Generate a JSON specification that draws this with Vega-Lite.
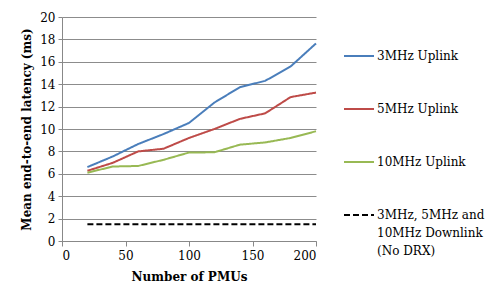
{
  "$schema": "https://vega.github.io/schema/vega-lite/v6.json",
  "width": 254,
  "height": 224,
  "autosize": "none",
  "padding": {"left": 62, "top": 17, "right": 181, "bottom": 47},
  "background": "white",
  "config": {
    "view": {"stroke": null},
    "font": "DejaVu Serif",
    "axis": {"labelFont": "DejaVu Serif", "titleFont": "DejaVu Serif", "labelFontSize": 12, "titleFontSize": 12, "labelColor": "#000", "titleColor": "#000"},
    "legend": {"labelFont": "DejaVu Serif", "labelFontSize": 12, "labelColor": "#000"},
    "style": {"guide-label": {"lineHeight": 18}}
  },
  "data": {
    "values": [
      {"pmus": 20, "latency": 6.6, "series": "3MHz Uplink"},
      {"pmus": 40, "latency": 7.55, "series": "3MHz Uplink"},
      {"pmus": 60, "latency": 8.66, "series": "3MHz Uplink"},
      {"pmus": 80, "latency": 9.55, "series": "3MHz Uplink"},
      {"pmus": 100, "latency": 10.54, "series": "3MHz Uplink"},
      {"pmus": 120, "latency": 12.36, "series": "3MHz Uplink"},
      {"pmus": 140, "latency": 13.73, "series": "3MHz Uplink"},
      {"pmus": 160, "latency": 14.3, "series": "3MHz Uplink"},
      {"pmus": 180, "latency": 15.58, "series": "3MHz Uplink"},
      {"pmus": 200, "latency": 17.64, "series": "3MHz Uplink"},
      {"pmus": 20, "latency": 6.27, "series": "5MHz Uplink"},
      {"pmus": 40, "latency": 6.98, "series": "5MHz Uplink"},
      {"pmus": 60, "latency": 8.0, "series": "5MHz Uplink"},
      {"pmus": 80, "latency": 8.24, "series": "5MHz Uplink"},
      {"pmus": 100, "latency": 9.2, "series": "5MHz Uplink"},
      {"pmus": 120, "latency": 10.0, "series": "5MHz Uplink"},
      {"pmus": 140, "latency": 10.9, "series": "5MHz Uplink"},
      {"pmus": 160, "latency": 11.4, "series": "5MHz Uplink"},
      {"pmus": 180, "latency": 12.85, "series": "5MHz Uplink"},
      {"pmus": 200, "latency": 13.25, "series": "5MHz Uplink"},
      {"pmus": 20, "latency": 6.1, "series": "10MHz Uplink"},
      {"pmus": 40, "latency": 6.65, "series": "10MHz Uplink"},
      {"pmus": 60, "latency": 6.7, "series": "10MHz Uplink"},
      {"pmus": 80, "latency": 7.25, "series": "10MHz Uplink"},
      {"pmus": 100, "latency": 7.9, "series": "10MHz Uplink"},
      {"pmus": 120, "latency": 7.92, "series": "10MHz Uplink"},
      {"pmus": 140, "latency": 8.6, "series": "10MHz Uplink"},
      {"pmus": 160, "latency": 8.8, "series": "10MHz Uplink"},
      {"pmus": 180, "latency": 9.2, "series": "10MHz Uplink"},
      {"pmus": 200, "latency": 9.8, "series": "10MHz Uplink"},
      {"pmus": 20, "latency": 1.5, "series": "Downlink"},
      {"pmus": 200, "latency": 1.5, "series": "Downlink"}
    ]
  },
  "mark": {"type": "line", "strokeWidth": 2},
  "encoding": {
    "x": {
      "field": "pmus", "type": "quantitative",
      "scale": {"domain": [0, 200], "nice": false},
      "axis": {"title": "Number of PMUs", "titleFontWeight": "bold", "values": [0, 50, 100, 150, 200], "grid": false, "domainColor": "#888", "tickColor": "#888", "tickSize": 5, "labelPadding": 4, "titlePadding": 10}
    },
    "y": {
      "field": "latency", "type": "quantitative",
      "scale": {"domain": [0, 20], "nice": false},
      "axis": {"title": "Mean end-to-end latency (ms)", "titleFontWeight": "bold", "values": [0, 2, 4, 6, 8, 10, 12, 14, 16, 18, 20], "gridColor": "#8c8c8c", "gridWidth": 1, "domainColor": "#888", "tickColor": "#888", "tickSize": 4, "labelPadding": 3, "titlePadding": 6}
    },
    "color": {
      "field": "series", "type": "nominal",
      "scale": {"domain": ["3MHz Uplink", "5MHz Uplink", "10MHz Uplink", "Downlink"], "range": ["#4A7EBB", "#BE4B48", "#98B954", "#000000"]},
      "legend": {
        "title": null, "orient": "none", "legendX": 281, "legendY": 23,
        "symbolType": "stroke", "symbolSize": 900, "symbolStrokeWidth": 2,
        "rowPadding": 31, "labelOffset": 2, "labelBaseline": "middle",
        "labelExpr": "datum.label == 'Downlink' ? ['3MHz, 5MHz and', '10MHz Downlink', '(No DRX)'] : datum.label"
      }
    },
    "strokeDash": {
      "field": "series", "type": "nominal",
      "scale": {"domain": ["3MHz Uplink", "5MHz Uplink", "10MHz Uplink", "Downlink"], "range": [[1, 0], [1, 0], [1, 0], [6, 3]]},
      "legend": null
    }
  }
}
